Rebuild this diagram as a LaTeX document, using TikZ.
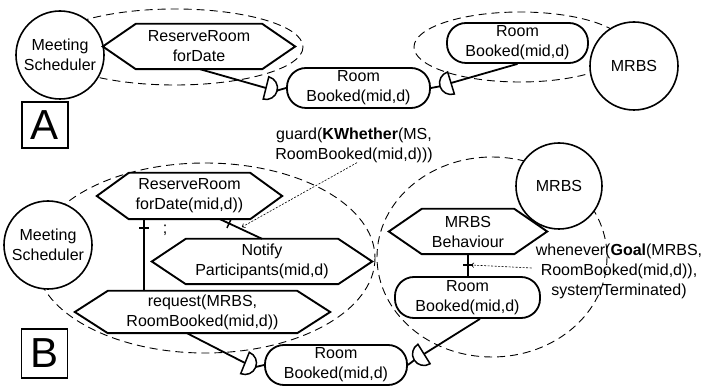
\documentclass[tikz,border=0pt]{standalone}
\usepackage{fontspec}
\setmainfont{Liberation Sans}
\usetikzlibrary{calc,arrows.meta,decorations.markings}
\newcommand\mkhex[7]{%
  \node[txt, minimum width=#4pt, minimum height=#5pt] (#1) at (#2,#3) {#7};
  \draw[hexline] (#1.west) -- ([xshift=#6pt]#1.north west) -- ([xshift=-#6pt]#1.north east) -- (#1.east) -- ([xshift=-#6pt]#1.south east) -- ([xshift=#6pt]#1.south west) -- cycle;}
\begin{document}
\begin{tikzpicture}[x=1pt,y=-1pt,
  txt/.style={font=\fontsize{16}{20}\selectfont, align=center, inner sep=0pt},
  circ/.style={circle, draw, line width=1.6pt, fill=white, minimum size=88pt, inner sep=0pt, txt},
  rbox/.style={rectangle, rounded corners=19pt, draw, line width=1.8pt, fill=white, minimum height=40pt, txt},
  hexline/.style={line width=1.9pt, line join=miter},
  grp/.style={line width=0.9pt, dash pattern=on 8pt off 5pt},
  conn/.style={line width=1.8pt},
  note/.style={line width=0.6pt, dash pattern=on 2pt off 1.5pt, -{To[length=3pt,width=5pt]}},
  lbl/.style={draw, line width=1.5pt, font=\fontsize{42}{42}\selectfont, inner sep=0pt, minimum width=46pt},
  crossmark/.style={postaction={decorate, decoration={markings, mark=at position #1 with {\draw[line width=1.5pt] (0pt,-5pt) -- (0pt,5pt);}}}},
  pics/andgate/.style={code={
     \coordinate (-in) at (0,0);
     \coordinate (-out) at (11,0);
     \draw[line width=1.5pt, fill=white] (0,-11.5) -- (0,11.5) arc (90:-90:11.5) -- cycle;}}
]
\useasboundingbox (0,0) rectangle (705,387);

% ---------- Part A ----------
\draw[grp] (175,47) ellipse [x radius=128, y radius=38];
\draw[grp] (520,47) ellipse [x radius=106, y radius=35];

\node[circ] (msA) at (60,55) {Meeting\\Scheduler};
\mkhex{rrA}{199}{46.5}{192}{45}{33}{ReserveRoom\\forDate}
\node[rbox, minimum width=143pt] (rbA) at (358.5,88) {Room\\Booked(mid,d)};
\node[rbox, minimum width=141pt] (rb2A) at (517.5,43) {Room\\Booked(mid,d)};
\node[circ] (mrbsA) at (634,66) {MRBS};
\node[lbl, minimum height=46pt] (labA) at (45,125) {A};

\pic[rotate=-14] (dA1) at (266,88) {andgate};
\pic[rotate=-163] (dA2) at (451,83) {andgate};
\draw[conn] ([xshift=1pt]rrA.south) -- (dA1-in);
\draw[conn] (dA1-out) -- (rbA.west);
\draw[conn] (rb2A.south) -- (dA2-in);
\draw[conn] (dA2-out) -- (rbA.east);

% ---------- Part B ----------
\draw[grp] (205,258) ellipse [x radius=170, y radius=95];
\draw[grp] (492,257) ellipse [x radius=115, y radius=100];

\node[circ] (msB) at (48,245) {Meeting\\Scheduler};
\node[circ, minimum size=86pt] (mrbsB) at (559,186) {MRBS};
\mkhex{rrB}{189.5}{196}{185}{46}{32}{ReserveRoom\\forDate(mid,d))}
\mkhex{ntB}{262}{261.5}{220}{45}{34}{Notify\\Participants(mid,d)}
\mkhex{rqB}{202.5}{312}{255}{42}{33}{request(MRBS,\\RoomBooked(mid,d))}
\mkhex{mbB}{468}{231.5}{158}{45}{33}{MRBS\\Behaviour}
\node[rbox, minimum width=142pt] (rbB) at (336,365) {Room\\Booked(mid,d)};
\node[rbox, minimum width=145pt, minimum height=41pt] (rb2B) at (467.5,297.5) {Room\\Booked(mid,d)};
\node[lbl, minimum height=49pt] (labB) at (44.5,353.5) {B};

\node[txt] (guard) at (354,145) {guard(\textbf{KWhether}(MS,\\RoomBooked(mid,d)))};
\node[txt] (whnv) at (619,271) {whenever(\textbf{Goal}(MRBS,\\RoomBooked(mid,d)),\\systemTerminated)};
\node[txt] (semi) at (165,230) {;};

% refinement links
\draw[conn, crossmark=9pt] ([xshift=-45.5pt]rrB.south) -- ([xshift=-45.5pt]rrB.south |- rqB.north);
\draw[conn, crossmark=10pt] ([xshift=30.5pt]rrB.south) -- (ntB.north);
\draw[conn, crossmark=0.5] (mbB.south) -- (mbB.south |- rb2B.north);

% and-connections to shared phenomenon
\pic[rotate=-22] (dB1) at (245,363) {andgate};
\pic[rotate=-148] (dB2) at (424,354) {andgate};
\draw[conn] ([xshift=-15.5pt]rqB.south) -- (dB1-in);
\draw[conn] (dB1-out) -- (rbB.west);
\draw[conn] ([xshift=12.5pt]rb2B.south) -- (dB2-in);
\draw[conn] (dB2-out) -- (rbB.east);

% annotation arrows
\coordinate (gEnd) at (242,227);
\coordinate (wEnd) at (471,265);
\draw[note] ([xshift=3pt]guard.south) -- (gEnd);
\draw[note] ([xshift=-4pt,yshift=3pt]whnv.west) -- (wEnd);
\end{tikzpicture}
\end{document}
